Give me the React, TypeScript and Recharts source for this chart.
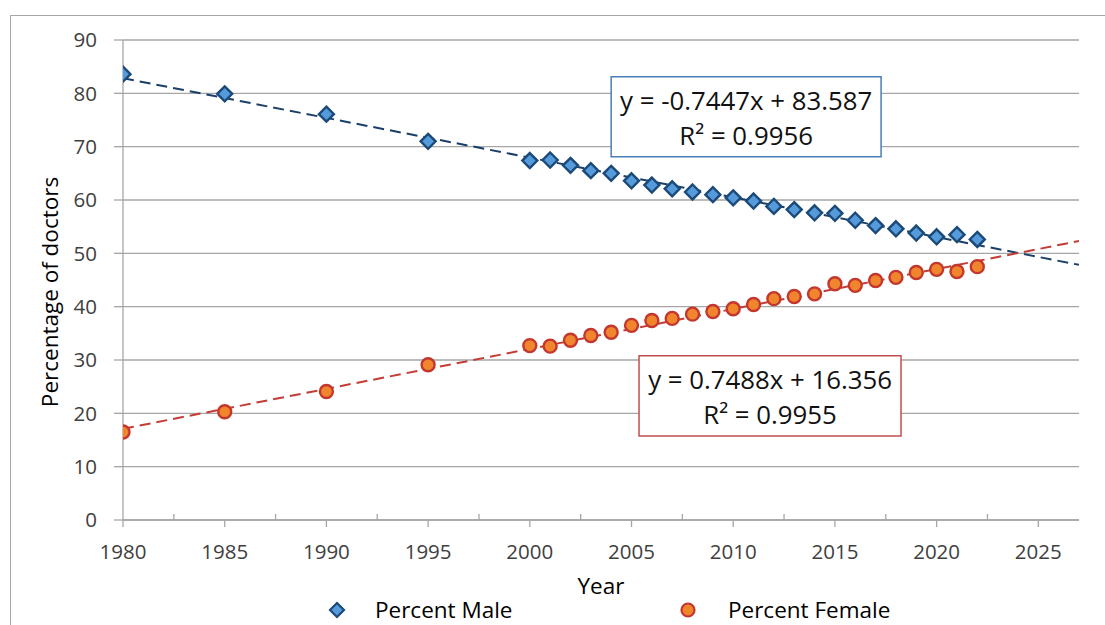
import { ComposedChart, Scatter, Line, XAxis, YAxis, CartesianGrid, ReferenceArea, Label } from "recharts";

const years = [
  1980, 1985, 1990, 1995, 2000, 2001, 2002, 2003, 2004, 2005, 2006, 2007, 2008, 2009, 2010, 2011, 2012, 2013,
  2014, 2015, 2016, 2017, 2018, 2019, 2020, 2021, 2022,
];
const percentMale = [
  83.6, 79.9, 76.1, 71.0, 67.4, 67.5, 66.5, 65.5, 65.0, 63.6, 62.8, 62.1, 61.5, 61.0, 60.4, 59.8, 58.8, 58.2,
  57.6, 57.5, 56.2, 55.2, 54.6, 53.8, 53.1, 53.5, 52.6,
];
const percentFemale = [
  16.5, 20.3, 24.1, 29.1, 32.7, 32.6, 33.7, 34.6, 35.2, 36.5, 37.4, 37.8, 38.6, 39.1, 39.6, 40.4, 41.5, 41.9,
  42.4, 44.3, 44.0, 44.9, 45.5, 46.4, 47.0, 46.6, 47.5,
];

// linear trendline end points (Excel, x = year index)
const trendYears = [1980, 2027];
const maleTrend = [82.84, 47.84];
const femaleTrend = [17.1, 52.3];

const majorTicks = [1980, 1985, 1990, 1995, 2000, 2005, 2010, 2015, 2020, 2025];
const minorTicks = [1982.5, 1987.5, 1992.5, 1997.5, 2002.5, 2007.5, 2012.5, 2017.5, 2022.5];
const yTicks = [0, 10, 20, 30, 40, 50, 60, 70, 80, 90];

const maleEquation = ["y = -0.7447x + 83.587", "R\u00b2 = 0.9956"];
const femaleEquation = ["y = 0.7488x + 16.356", "R\u00b2 = 0.9955"];

const maleRows = years.map((year, i) => ({ year, value: percentMale[i] }));
const femaleRows = years.map((year, i) => ({ year, value: percentFemale[i] }));
const maleTrendRows = trendYears.map((year, i) => ({ year, value: maleTrend[i] }));
const femaleTrendRows = trendYears.map((year, i) => ({ year, value: femaleTrend[i] }));

const FONT = "'Open Sans', 'Noto Sans', sans-serif";
const GRID = "#a6a6a6";
const BLUE_FILL = "#559bdc";
const BLUE_EDGE = "#1c4a78";
const ORANGE_FILL = "#f0852d";
const RED_EDGE = "#c4372f";

const Diamond = (props: any) => {
  const { cx, cy } = props;
  const h = 7.5;
  return (
    <path
      d={`M${cx},${cy - h}L${cx + h},${cy}L${cx},${cy + h}L${cx - h},${cy}Z`}
      fill={BLUE_FILL}
      stroke={BLUE_EDGE}
      strokeWidth={2.4}
    />
  );
};

const Dot = (props: any) => {
  const { cx, cy } = props;
  return <circle cx={cx} cy={cy} r={6.5} fill={ORANGE_FILL} stroke={RED_EDGE} strokeWidth={2.4} />;
};

const YearTick = (props: any) => {
  const { x, y, payload } = props;
  const v = payload.value;
  if (minorTicks.includes(v)) {
    return <line x1={x} x2={x} y1={y} y2={y - 6} stroke={GRID} strokeWidth={1.3} />;
  }
  return (
    <g>
      <line x1={x} x2={x} y1={y} y2={y + 7} stroke={GRID} strokeWidth={1.3} />
      <text x={x} y={y + 39} textAnchor="middle" fontSize={20.5} fontFamily={FONT} fill="#404040">
        {v}
      </text>
    </g>
  );
};

const boxLabel = (lines: string[]) => (props: any) => {
  const { x, y, width, height } = props.viewBox;
  const cx = x + width / 2;
  const cy = y + height / 2;
  return (
    <g>
      <text x={cx} y={cy - 7} textAnchor="middle" fontSize={25.8} fontFamily={FONT} fill="#111">
        {lines[0]}
      </text>
      <text x={cx} y={cy + 28} textAnchor="middle" fontSize={25.8} fontFamily={FONT} fill="#111">
        {lines[1]}
      </text>
    </g>
  );
};

export default function App() {
  return (
    <div style={{ position: "absolute", left: 0, top: 0, width: 1105, height: 625, background: "#fff" }}>
      <div
        style={{
          position: "absolute",
          left: 10,
          top: 15,
          right: 0,
          bottom: 0,
          borderTop: `1px solid ${GRID}`,
          borderLeft: `1px solid ${GRID}`,
        }}
      />
      <ComposedChart
        width={1105}
        height={625}
        margin={{ top: 40, right: 26, bottom: 25, left: 0 }}
        style={{ position: "absolute", left: 0, top: 0 }}
      >
        <CartesianGrid vertical={false} stroke={GRID} strokeWidth={1.3} />
        <XAxis
          type="number"
          dataKey="year"
          domain={[1980, 2027]}
          ticks={[...majorTicks, ...minorTicks]}
          interval={0}
          height={80}
          tickSize={0}
          tickMargin={0}
          tickLine={false}
          tick={<YearTick />}
          axisLine={{ stroke: GRID, strokeWidth: 1.3 }}
          allowDataOverflow
        >
          <Label
            content={(p: any) => (
              <text
                x={p.viewBox.x + p.viewBox.width / 2}
                y={p.viewBox.y + 74}
                textAnchor="middle"
                fontSize={22.5}
                fontFamily={FONT}
                fill="#000"
              >
                Year
              </text>
            )}
          />
        </XAxis>
        <YAxis
          type="number"
          dataKey="value"
          domain={[0, 90]}
          ticks={yTicks}
          width={123}
          tickSize={9}
          tickMargin={17}
          tickLine={{ stroke: GRID, strokeWidth: 1.3 }}
          axisLine={{ stroke: GRID, strokeWidth: 1.3 }}
          tick={{ fontSize: 20.5, fontFamily: FONT, fill: "#404040" }}
        >
          <Label
            content={(p: any) => {
              const x = 49;
              const y = p.viewBox.y + p.viewBox.height / 2 + 12;
              return (
                <text
                  x={x}
                  y={y}
                  transform={`rotate(-90, ${x}, ${y})`}
                  textAnchor="middle"
                  dominantBaseline="central"
                  fontSize={22.5}
                  fontFamily={FONT}
                  fill="#000"
                >
                  Percentage of doctors
                </text>
              );
            }}
          />
        </YAxis>
        <ReferenceArea
          x1={2004}
          x2={2017.27}
          y1={68.1}
          y2={83.1}
          fill="#fff"
          fillOpacity={1}
          stroke="#4a7ebb"
          strokeWidth={1.5}
          label={boxLabel(maleEquation)}
        />
        <ReferenceArea
          x1={2005.37}
          x2={2018.25}
          y1={15.75}
          y2={30.8}
          fill="#fff"
          fillOpacity={1}
          stroke="#c0504d"
          strokeWidth={1.5}
          label={boxLabel(femaleEquation)}
        />
        <Line
          data={maleTrendRows}
          dataKey="value"
          stroke="#1a3f68"
          strokeWidth={2}
          strokeDasharray="11 6"
          dot={false}
          activeDot={false}
          isAnimationActive={false}
        />
        <Line
          data={femaleTrendRows}
          dataKey="value"
          stroke="#c43c36"
          strokeWidth={2}
          strokeDasharray="11 6"
          dot={false}
          activeDot={false}
          isAnimationActive={false}
        />
        <Scatter data={maleRows} dataKey="value" shape={<Diamond />} isAnimationActive={false} />
        <Scatter data={femaleRows} dataKey="value" shape={<Dot />} isAnimationActive={false} />
      </ComposedChart>
      <div
        style={{
          position: "absolute",
          top: 596,
          left: 0,
          height: 28,
          width: 1105,
          fontFamily: FONT,
          fontSize: 22.5,
          color: "#000",
        }}
      >
        <svg width={20} height={20} style={{ position: "absolute", left: 327, top: 4 }}>
          <path d="M10,3L17,10L10,17L3,10Z" fill={BLUE_FILL} stroke={BLUE_EDGE} strokeWidth={2.2} />
        </svg>
        <span style={{ position: "absolute", left: 375, top: 0, lineHeight: "28px" }}>Percent Male</span>
        <svg width={20} height={20} style={{ position: "absolute", left: 678, top: 4 }}>
          <circle cx={10} cy={10} r={6.5} fill={ORANGE_FILL} stroke={RED_EDGE} strokeWidth={2.2} />
        </svg>
        <span style={{ position: "absolute", left: 728, top: 0, lineHeight: "28px" }}>Percent Female</span>
      </div>
    </div>
  );
}
